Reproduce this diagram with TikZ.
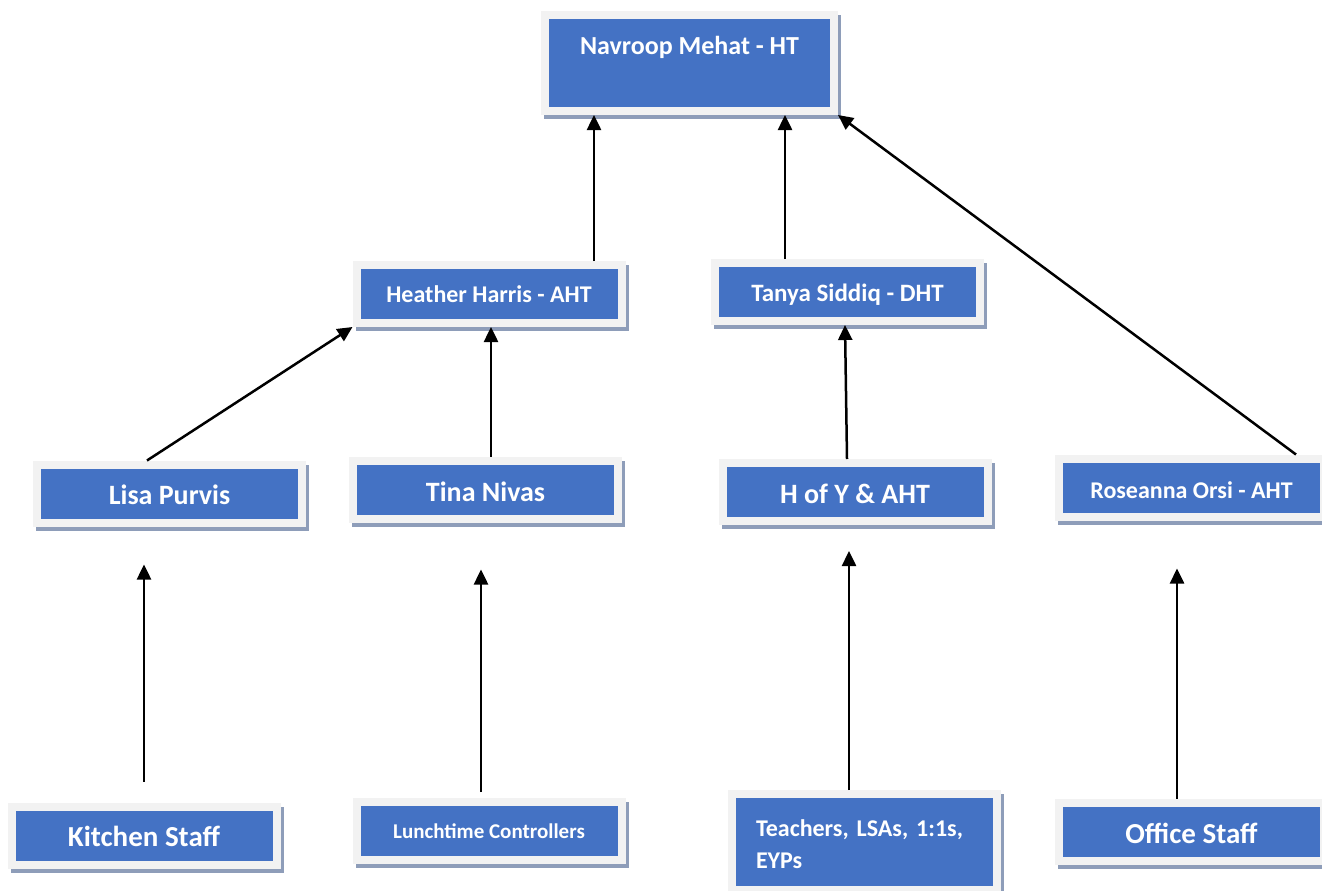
\documentclass[tikz,border=0pt]{standalone}
\usepackage{fontspec}
\setmainfont{Carlito}
\usetikzlibrary{arrows.meta,backgrounds}
\definecolor{boxblue}{HTML}{4472C4}
\definecolor{framegrey}{HTML}{F2F2F2}
\definecolor{shadowgrey}{RGB}{142,157,185}

\begin{document}
\begin{tikzpicture}[x=1pt,y=-1pt,
  box/.style={draw=framegrey, line width=8pt, fill=boxblue, outer sep=4pt,
    minimum width=265pt, minimum height=58pt, text=white,
    text height=17pt, text depth=0pt, font=\bfseries\fontsize{#1}{#1}\selectfont},
  arr/.style={line width=2.5pt, -{Triangle[length=15pt,width=14pt]}}]
\useasboundingbox (0,0) rectangle (1322,891);

% Head and the staff under the head
\node[box=26, minimum width=289pt, minimum height=96pt, inner ysep=0pt,
  text height=40pt, text depth=56pt] (ht) at (689.5,63) {Navroop Mehat - HT};
\node[box=24] (hh) at (489,294) {Heather Harris - AHT};
\node[box=25, text height=19pt] (ts) at (847.5,292) {Tanya Siddiq - DHT};
\node[box=28, text height=22pt] (lp) at (169.5,493.5) {Lisa Purvis};
\node[box=28, text height=24pt] (tn) at (485.5,489.5) {Tina Nivas};
\node[box=28, text height=23pt] (hy) at (855,492) {H of Y \& AHT};
\node[box=24, text height=21pt] (ro) at (1191.5,487.5) {Roseanna Orsi - AHT};

% Bottom row
\node[box=29, text height=22pt] (ks) at (144,835.5) {Kitchen Staff};
\node[box=21, text height=14pt] (lc) at (489,831) {Lunchtime Controllers};
\node[box=24, font=\bfseries\fontsize{24}{32}\selectfont, minimum height=96pt,
  inner ysep=0pt, text height=38pt, text depth=50pt, align=left,
  text width=216pt, inner xsep=24pt]
  (te) at (864,842) {Teachers, LSAs, 1:1s,\\EYPs};
\node[box=29, text height=24pt] (os) at (1191.5,831.5) {Office Staff};

\begin{scope}[on background layer]
\foreach \n in {ht,hh,ts,lp,tn,hy,ro,ks,lc,te,os}
  \fill[shadowgrey] ([shift={(3pt,-4pt)}]\n.south west) rectangle ([shift={(3pt,-4pt)}]\n.north east);
\end{scope}

% The links:
\draw[arr] ([xshift=105pt]hh.north) -- ([xshift=105pt]hh.north |- ht.south);
\draw[arr] ([xshift=-62.5pt]ts.north) -- ([xshift=-62.5pt]ts.north |- ht.south);
\draw[arr] ([xshift=104.5pt]ro.north) -- (ht.south east);
\draw[arr] ([xshift=-22.5pt]lp.north) -- (hh.south west);
\draw[arr] ([xshift=5.5pt]tn.north) -- ([xshift=5.5pt]tn.north |- hh.south);
\draw[arr] ([xshift=-8pt]hy.north) -- ([xshift=-2.5pt]ts.south);

% Bottom links
\draw[arr, shorten <=21pt, shorten >=38pt] (ks.north) -- (ks.north |- lp.south);
\draw[arr, shorten <=6pt, shorten >=47pt] ([xshift=-8pt]lc.north) -- ([xshift=-8pt]lc.north |- tn.south);
\draw[arr, shorten >=26pt] ([xshift=-15pt]te.north) -- ([xshift=-15pt]te.north |- hy.south);
\draw[arr, shorten >=48pt] ([xshift=-14.5pt]os.north) -- ([xshift=-14.5pt]os.north |- ro.south);
\end{tikzpicture}
\end{document}
